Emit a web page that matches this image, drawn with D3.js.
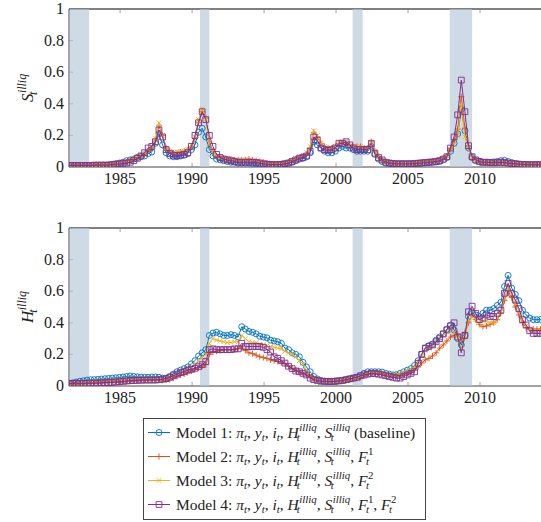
<!DOCTYPE html>
<html>
<head>
<meta charset="utf-8">
<script src="https://cdn.jsdelivr.net/npm/d3@7"></script>
<style>
  body { margin: 0; background: #fff; }
  svg { display: block; }
</style>
</head>
<body>
<svg id="chart" width="541" height="522"></svg>
<script>
// quarterly observations, first one in mid 1981
const startYear = 1981.45;

const xTicks = [1985, 1990, 1995, 2000, 2005, 2010];
const yTicks = [0, 0.2, 0.4, 0.6, 0.8, 1];

// NBER recessions
const recessions = [[1981.5, 1982.85], [1990.55, 1991.2], [2001.15, 2001.85], [2007.9, 2009.45]];

const modelNames = ['Model 1', 'Model 2', 'Model 3', 'Model 4'];

// S_t^illiq, one group of 4 quarters per line
const sModel1 = [
  0.005,0.005,0.005,0.005, 0.005,0.006,0.006,0.007, 0.008,0.009,0.01,0.012, 0.015,0.02,0.025,0.03,
  0.04,0.045,0.05,0.06, 0.065,0.07,0.085,0.095, 0.15,0.21,0.14,0.09, 0.07,0.065,0.065,0.07,
  0.075,0.085,0.11,0.14, 0.22,0.245,0.19,0.11, 0.07,0.05,0.045,0.04, 0.035,0.03,0.03,0.025,
  0.025,0.025,0.025,0.022, 0.02,0.018,0.015,0.012, 0.012,0.012,0.013,0.015, 0.02,0.025,0.03,0.04,
  0.05,0.055,0.065,0.09, 0.16,0.14,0.12,0.1, 0.09,0.09,0.1,0.12, 0.13,0.12,0.12,0.11,
  0.1,0.1,0.1,0.1, 0.13,0.08,0.05,0.035, 0.025,0.022,0.02,0.02, 0.02,0.02,0.02,0.02,
  0.02,0.022,0.024,0.026, 0.028,0.03,0.032,0.035, 0.045,0.06,0.1,0.15, 0.21,0.365,0.23,0.12,
  0.06,0.04,0.035,0.03, 0.03,0.03,0.032,0.035, 0.04,0.042,0.035,0.028, 0.022,0.018,0.015,0.014,
  0.013,0.013,0.013,0.013, 0.013,0.013,0.013,0.013
];
const sModel2 = [
  0.01,0.01,0.01,0.01, 0.01,0.01,0.012,0.012, 0.012,0.013,0.014,0.015, 0.018,0.02,0.025,0.028,
  0.03,0.04,0.05,0.06, 0.07,0.08,0.1,0.12, 0.17,0.26,0.2,0.12, 0.1,0.09,0.09,0.095,
  0.1,0.11,0.13,0.18, 0.28,0.35,0.31,0.16, 0.1,0.07,0.06,0.055, 0.05,0.05,0.045,0.045,
  0.045,0.045,0.05,0.045, 0.04,0.035,0.03,0.025, 0.02,0.02,0.02,0.022, 0.025,0.03,0.04,0.05,
  0.06,0.07,0.08,0.12, 0.22,0.19,0.15,0.13, 0.12,0.12,0.13,0.15, 0.15,0.15,0.14,0.13,
  0.13,0.13,0.12,0.12, 0.16,0.1,0.065,0.045, 0.035,0.03,0.025,0.022, 0.022,0.022,0.022,0.022,
  0.025,0.027,0.03,0.032, 0.035,0.037,0.04,0.045, 0.055,0.07,0.12,0.17, 0.24,0.445,0.245,0.13,
  0.065,0.045,0.035,0.03, 0.03,0.028,0.027,0.028, 0.03,0.028,0.025,0.022, 0.02,0.018,0.016,0.015,
  0.015,0.015,0.015,0.015, 0.015,0.015,0.015,0.015
];
const sModel3 = [
  0.01,0.01,0.01,0.01, 0.01,0.01,0.012,0.012, 0.012,0.013,0.014,0.015, 0.018,0.02,0.025,0.03,
  0.035,0.045,0.055,0.065, 0.075,0.09,0.11,0.13, 0.18,0.28,0.2,0.12, 0.1,0.09,0.095,0.1,
  0.1,0.11,0.14,0.19, 0.3,0.37,0.3,0.15, 0.1,0.07,0.06,0.055, 0.05,0.05,0.045,0.045,
  0.045,0.045,0.045,0.04, 0.038,0.033,0.028,0.024, 0.02,0.02,0.02,0.022, 0.026,0.032,0.042,0.052,
  0.065,0.075,0.09,0.13, 0.23,0.2,0.15,0.13, 0.12,0.12,0.13,0.15, 0.16,0.16,0.14,0.13,
  0.13,0.13,0.12,0.12, 0.15,0.1,0.065,0.045, 0.035,0.03,0.025,0.022, 0.022,0.022,0.022,0.022,
  0.025,0.027,0.03,0.032, 0.035,0.037,0.04,0.045, 0.055,0.07,0.1,0.14, 0.2,0.4,0.19,0.12,
  0.06,0.042,0.035,0.03, 0.03,0.028,0.028,0.03, 0.032,0.03,0.026,0.022, 0.02,0.018,0.016,0.015,
  0.015,0.015,0.015,0.015, 0.015,0.015,0.015,0.015
];
const sModel4 = [
  0.01,0.01,0.01,0.01, 0.01,0.01,0.01,0.012, 0.012,0.012,0.012,0.012, 0.015,0.018,0.02,0.022,
  0.025,0.03,0.04,0.055, 0.07,0.09,0.12,0.13, 0.16,0.234,0.19,0.11, 0.085,0.075,0.072,0.075,
  0.08,0.09,0.13,0.2, 0.28,0.35,0.3,0.2, 0.13,0.08,0.06,0.05, 0.045,0.04,0.035,0.03,
  0.03,0.03,0.03,0.03, 0.028,0.025,0.02,0.018, 0.015,0.015,0.015,0.016, 0.02,0.025,0.035,0.045,
  0.055,0.06,0.07,0.1, 0.19,0.17,0.12,0.11, 0.105,0.11,0.12,0.15, 0.15,0.16,0.14,0.12,
  0.11,0.11,0.11,0.11, 0.15,0.087,0.06,0.045, 0.03,0.025,0.022,0.02, 0.02,0.02,0.02,0.02,
  0.022,0.024,0.026,0.028, 0.03,0.032,0.035,0.04, 0.05,0.065,0.12,0.19, 0.33,0.55,0.35,0.135,
  0.065,0.045,0.035,0.03, 0.03,0.028,0.027,0.028, 0.03,0.028,0.025,0.022, 0.02,0.018,0.016,0.015,
  0.015,0.015,0.015,0.015, 0.015,0.015,0.015,0.015
];

// H_t^illiq
const hModel1 = [
  0.017,0.02,0.025,0.03, 0.033,0.037,0.04,0.04, 0.042,0.044,0.046,0.048, 0.05,0.052,0.054,0.057,
  0.06,0.063,0.06,0.058, 0.056,0.055,0.055,0.057, 0.057,0.055,0.05,0.048, 0.06,0.075,0.09,0.1,
  0.11,0.12,0.14,0.16, 0.19,0.21,0.23,0.32, 0.335,0.34,0.33,0.32, 0.32,0.325,0.32,0.31,
  0.375,0.36,0.345,0.34, 0.33,0.315,0.31,0.305, 0.29,0.285,0.28,0.27, 0.24,0.23,0.21,0.2,
  0.185,0.15,0.12,0.09, 0.06,0.045,0.035,0.03, 0.03,0.03,0.032,0.034, 0.036,0.04,0.045,0.05,
  0.055,0.065,0.08,0.09, 0.09,0.09,0.09,0.088, 0.08,0.075,0.07,0.072, 0.08,0.09,0.1,0.11,
  0.13,0.16,0.2,0.24, 0.255,0.265,0.29,0.31, 0.33,0.36,0.385,0.355, 0.3,0.26,0.32,0.44,
  0.46,0.45,0.44,0.46, 0.48,0.48,0.49,0.51, 0.53,0.63,0.7,0.62, 0.58,0.54,0.48,0.45,
  0.43,0.42,0.42,0.42, 0.42,0.42,0.42,0.42
];
const hModel2 = [
  0.01,0.012,0.014,0.015, 0.016,0.017,0.018,0.019, 0.02,0.02,0.021,0.022, 0.023,0.024,0.025,0.026,
  0.028,0.03,0.032,0.033, 0.034,0.034,0.035,0.035, 0.035,0.036,0.036,0.037, 0.04,0.05,0.06,0.07,
  0.075,0.085,0.095,0.105, 0.115,0.125,0.135,0.2, 0.215,0.22,0.225,0.23, 0.23,0.23,0.23,0.235,
  0.24,0.225,0.21,0.205, 0.195,0.185,0.18,0.175, 0.165,0.16,0.155,0.15, 0.14,0.125,0.11,0.1,
  0.09,0.08,0.07,0.055, 0.045,0.04,0.035,0.03, 0.028,0.028,0.03,0.032, 0.034,0.036,0.04,0.045,
  0.05,0.055,0.065,0.075, 0.08,0.082,0.08,0.078, 0.072,0.068,0.065,0.065, 0.068,0.072,0.078,0.085,
  0.1,0.12,0.145,0.165, 0.175,0.19,0.21,0.24, 0.26,0.285,0.31,0.32, 0.33,0.29,0.34,0.4,
  0.45,0.42,0.39,0.375, 0.38,0.39,0.4,0.42, 0.46,0.54,0.6,0.56, 0.5,0.45,0.4,0.37,
  0.36,0.36,0.36,0.36, 0.36,0.36,0.36,0.36
];
const hModel3 = [
  0.012,0.015,0.018,0.02, 0.022,0.025,0.027,0.03, 0.03,0.032,0.033,0.035, 0.036,0.038,0.04,0.04,
  0.042,0.044,0.045,0.045, 0.045,0.045,0.045,0.045, 0.045,0.045,0.042,0.042, 0.05,0.06,0.075,0.085,
  0.095,0.105,0.12,0.14, 0.16,0.18,0.2,0.27, 0.3,0.29,0.285,0.28, 0.275,0.275,0.28,0.28,
  0.32,0.3,0.28,0.275, 0.275,0.265,0.26,0.255, 0.25,0.245,0.24,0.235, 0.22,0.21,0.2,0.185,
  0.16,0.14,0.1,0.07, 0.05,0.04,0.035,0.03, 0.03,0.03,0.03,0.032, 0.035,0.038,0.042,0.046,
  0.05,0.06,0.07,0.08, 0.085,0.085,0.085,0.082, 0.078,0.072,0.068,0.068, 0.075,0.085,0.095,0.105,
  0.12,0.15,0.19,0.225, 0.24,0.255,0.28,0.3, 0.32,0.34,0.37,0.34, 0.3,0.24,0.3,0.42,
  0.44,0.42,0.4,0.41, 0.41,0.4,0.4,0.43, 0.47,0.56,0.63,0.58, 0.52,0.48,0.42,0.38,
  0.36,0.35,0.35,0.35, 0.35,0.35,0.35,0.35
];
const hModel4 = [
  0.015,0.016,0.017,0.017, 0.017,0.017,0.018,0.018, 0.018,0.02,0.021,0.022, 0.023,0.025,0.028,0.03,
  0.032,0.034,0.035,0.036, 0.037,0.038,0.038,0.038, 0.038,0.04,0.043,0.047, 0.055,0.065,0.075,0.085,
  0.09,0.1,0.105,0.112, 0.122,0.135,0.155,0.23, 0.235,0.23,0.23,0.23, 0.23,0.23,0.235,0.235,
  0.27,0.25,0.25,0.25, 0.25,0.25,0.245,0.23, 0.215,0.185,0.175,0.16, 0.145,0.125,0.11,0.095,
  0.09,0.08,0.07,0.05, 0.04,0.035,0.03,0.03, 0.028,0.028,0.03,0.032, 0.035,0.04,0.045,0.05,
  0.055,0.065,0.07,0.075, 0.08,0.078,0.075,0.07, 0.065,0.06,0.055,0.05, 0.05,0.06,0.07,0.08,
  0.09,0.144,0.2,0.24, 0.25,0.26,0.28,0.3, 0.33,0.355,0.38,0.4, 0.31,0.21,0.32,0.47,
  0.505,0.46,0.42,0.43, 0.45,0.44,0.44,0.46, 0.48,0.587,0.65,0.587, 0.544,0.49,0.42,0.386,
  0.35,0.333,0.333,0.333, 0.333,0.333,0.333,0.333
];

const colors = ['#0072bd', '#d95319', '#edb120', '#7e2f8e'];
const markers = ['circle', 'plus', 'times', 'square'];

const serif = "'Liberation Serif', 'DejaVu Serif', serif";
const svg = d3.select('#chart').attr('font-family', serif);
const tickSize = 16;
const legendSize = 15.5;

// plot area runs past the right edge of the picture
const x = d3.scaleLinear().domain([startYear, 2015]).range([69, 552]);

const addText = function(g, px, py, size, str) {
  return g.append('text').attr('x', px).attr('y', py)
    .attr('font-family', serif).attr('font-size', size)
    .attr('fill', '#222').text(str);
};

const mathRow = function(g, x0, y0, tokens, size) {
  let cx = x0;
  tokens.forEach(function(tk) {
    if (tk.t) {
      let t = addText(g, cx, y0, size, tk.t)
        .attr('font-style', tk.it ? 'italic' : 'normal')
        .style('white-space', 'pre');
      cx += t.node().getComputedTextLength();
    }
    let w = 0;
    if (tk.sup) {
      let s = addText(g, cx + 0.5, y0 - size * 0.4, size * 0.7, tk.sup)
        .attr('font-style', tk.supUp ? 'normal' : 'italic');
      w = Math.max(w, s.node().getComputedTextLength() + 0.5);
    }
    if (tk.sub) {
      let s = addText(g, cx - (tk.subKern || 0), y0 + size * 0.22, size * 0.7, tk.sub)
        .attr('font-style', 'italic');
      w = Math.max(w, s.node().getComputedTextLength() - (tk.subKern || 0));
    }
    cx += w;
  });
  return cx - x0;
};

const markerPath = function(kind) {
  if (kind === 'plus') return 'M-3,0H3M0,-3V3';
  if (kind === 'times') return 'M-2.3,-2.3L2.3,2.3M-2.3,2.3L2.3,-2.3';
  if (kind === 'square') return 'M-2.9,-2.9H2.9V2.9H-2.9Z';
  return null;
};

const drawMarker = function(g, kind, color, px, py) {
  if (kind === 'circle') {
    g.append('circle').attr('cx', px).attr('cy', py).attr('r', 3)
      .attr('fill', 'none').attr('stroke', color).attr('stroke-width', 0.9);
  } else {
    g.append('path').attr('d', markerPath(kind))
      .attr('transform', 'translate(' + px + ',' + py + ')')
      .attr('fill', 'none').attr('stroke', color).attr('stroke-width', 0.9);
  }
};

const drawPanel = function(id, top, bottom, seriesList, letter) {
  let y = d3.scaleLinear().domain([0, 1]).range([bottom, top]);
  let g = svg.append('g');

  svg.append('clipPath').attr('id', 'clip-' + id)
    .append('rect').attr('x', x.range()[0]).attr('y', top)
    .attr('width', x.range()[1] - x.range()[0]).attr('height', bottom - top);

  // axis frame and ticks
  g.append('line').attr('x1', x.range()[0]).attr('x2', x.range()[1]).attr('y1', top).attr('y2', top)
    .attr('stroke', '#000').attr('stroke-width', 1);
  g.append('line').attr('x1', x.range()[0]).attr('x2', x.range()[1]).attr('y1', bottom).attr('y2', bottom)
    .attr('stroke', '#444').attr('stroke-width', 1);
  g.append('line').attr('x1', x.range()[0]).attr('x2', x.range()[0]).attr('y1', top).attr('y2', bottom)
    .attr('stroke', '#444').attr('stroke-width', 1);

  xTicks.forEach(function(t) {
    g.append('line').attr('x1', x(t)).attr('x2', x(t)).attr('y1', bottom).attr('y2', bottom - 4)
      .attr('stroke', '#888').attr('stroke-width', 0.8);
    g.append('line').attr('x1', x(t)).attr('x2', x(t)).attr('y1', top).attr('y2', top + 4)
      .attr('stroke', '#888').attr('stroke-width', 0.8);
    addText(g, x(t), bottom + 16.5, tickSize, t).attr('text-anchor', 'middle');
  });
  yTicks.forEach(function(t) {
    if (t > 0 && t < 1) {
      g.append('line').attr('x1', x.range()[0]).attr('x2', x.range()[0] + 4).attr('y1', y(t)).attr('y2', y(t))
        .attr('stroke', '#888').attr('stroke-width', 0.8);
    }
    addText(g, 64, y(t) + 5, tickSize, d3.format('')(t)).attr('text-anchor', 'end');
  });

  // recession bands
  g.selectAll('rect.band').data(recessions).enter().append('rect')
    .attr('class', 'band')
    .attr('x', function(d) { return Math.max(x(d[0]), x.range()[0]); })
    .attr('width', function(d) { return x(d[1]) - Math.max(x(d[0]), x.range()[0]); })
    .attr('y', top).attr('height', bottom - top)
    .attr('fill', '#b4c7d8').attr('fill-opacity', 0.65);

  // series
  let plot = g.append('g').attr('clip-path', 'url(#clip-' + id + ')');
  seriesList.forEach(function(values, k) {
    let pts = values.map(function(v, i) { return [startYear + i * 0.25, v]; });
    let line = d3.line().x(function(d) { return x(d[0]); }).y(function(d) { return y(d[1]); });
    plot.append('path').attr('d', line(pts))
      .attr('fill', 'none').attr('stroke', colors[k]).attr('stroke-width', 1);
    let mg = plot.append('g');
    pts.forEach(function(d) {
      drawMarker(mg, markers[k], colors[k], x(d[0]), y(d[1]));
    });
  });

  // rotated y label
  let lab = svg.append('g').attr('transform', 'translate(33,' + ((top + bottom) / 2) + ') rotate(-90)');
  let inner = lab.append('g');
  let w = mathRow(inner, 0, 0, [{ t: letter, it: true, sup: 'illiq', sub: 't', subKern: letter === 'S' ? 1.5 : 2 }], 17);
  inner.attr('transform', 'translate(' + (-w / 2) + ',0)');
};

drawPanel('s', 9, 167, [sModel1, sModel2, sModel3, sModel4], 'S');
drawPanel('h', 228, 386, [hModel1, hModel2, hModel3, hModel4], 'H');

// legend
const common = [
  { t: ' ' },
  { t: 'π', it: true, sub: 't' }, { t: ', ' },
  { t: 'y', it: true, sub: 't' }, { t: ', ' },
  { t: 'i', it: true, sub: 't' }, { t: ', ' },
  { t: 'H', it: true, sup: 'illiq', sub: 't', subKern: 2 }, { t: ', ' },
  { t: 'S', it: true, sup: 'illiq', sub: 't', subKern: 1.5 }
];
const legendExtras = [
  [{ t: ' (baseline)' }],
  [{ t: ', ' }, { t: 'F', it: true, sup: '1', supUp: true, sub: 't', subKern: 1.5 }],
  [{ t: ', ' }, { t: 'F', it: true, sup: '2', supUp: true, sub: 't', subKern: 1.5 }],
  [{ t: ', ' }, { t: 'F', it: true, sup: '1', supUp: true, sub: 't', subKern: 1.5 }, { t: ', ' },
   { t: 'F', it: true, sup: '2', supUp: true, sub: 't', subKern: 1.5 }]
];

const legend = svg.append('g');
legend.append('rect').attr('x', 143.5).attr('y', 418.5).attr('width', 282).attr('height', 101)
  .attr('fill', '#fff').attr('stroke', '#444').attr('stroke-width', 1);
modelNames.forEach(function(name, k) {
  let cy = 432.5 + k * 24;
  legend.append('line').attr('x1', 148).attr('x2', 170).attr('y1', cy).attr('y2', cy)
    .attr('stroke', colors[k]).attr('stroke-width', 1);
  drawMarker(legend, markers[k], colors[k], 159, cy);
  mathRow(legend, 176, cy + 5, [{ t: name + ':' }].concat(common, legendExtras[k]), legendSize);
});
</script>
</body>
</html>
